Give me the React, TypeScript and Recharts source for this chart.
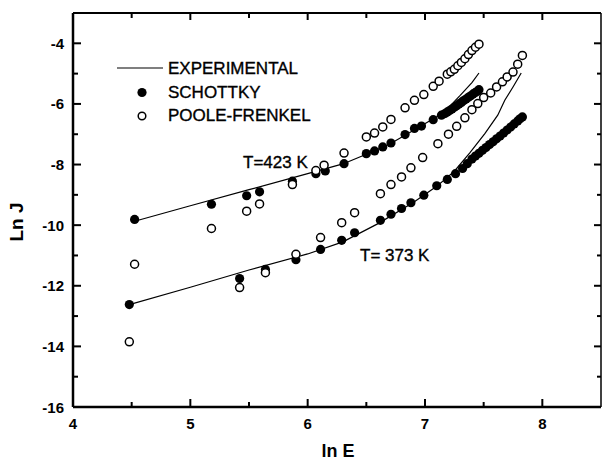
import { ScatterChart, Scatter, XAxis, YAxis } from 'recharts'

const FONT = '"Liberation Sans", Arial, Helvetica, sans-serif'

const xTicks = [4, 4.5, 5, 5.5, 6, 6.5, 7, 7.5, 8]
const xLabels = [4, 5, 6, 7, 8]
const yTicks = [-16, -15, -14, -13, -12, -11, -10, -9, -8, -7, -6, -5, -4]
const yLabels = [-16, -14, -12, -10, -8, -6, -4]

// T = 423 K
const exp423 = [
  { x: 4.525, y: -9.87 }, { x: 5.0, y: -9.36 }, { x: 5.5, y: -8.83 }, { x: 6.0, y: -8.3 },
  { x: 6.3, y: -7.98 }, { x: 6.5, y: -7.66 }, { x: 6.7, y: -7.32 }, { x: 6.9, y: -6.88 },
  { x: 7.1, y: -6.42 }, { x: 7.2, y: -6.12 }, { x: 7.3, y: -5.72 }, { x: 7.4, y: -5.3 },
  { x: 7.46, y: -4.98 },
]
const sch423 = [
  { x: 4.525, y: -9.81 }, { x: 5.18, y: -9.31 }, { x: 5.48, y: -9.03 }, { x: 5.59, y: -8.9 },
  { x: 5.87, y: -8.55 }, { x: 6.07, y: -8.3 }, { x: 6.15, y: -8.21 }, { x: 6.31, y: -7.97 },
  { x: 6.5, y: -7.64 }, { x: 6.57, y: -7.55 }, { x: 6.64, y: -7.42 }, { x: 6.71, y: -7.29 },
  { x: 6.83, y: -7.01 }, { x: 6.91, y: -6.81 }, { x: 6.97, y: -6.73 }, { x: 7.07, y: -6.52 },
  { x: 7.14, y: -6.37 }, { x: 7.17, y: -6.32 }, { x: 7.19, y: -6.27 }, { x: 7.21, y: -6.22 },
  { x: 7.23, y: -6.17 }, { x: 7.25, y: -6.11 }, { x: 7.27, y: -6.06 }, { x: 7.29, y: -6.0 },
  { x: 7.31, y: -5.95 }, { x: 7.33, y: -5.89 }, { x: 7.35, y: -5.84 }, { x: 7.37, y: -5.78 },
  { x: 7.39, y: -5.73 }, { x: 7.41, y: -5.67 }, { x: 7.43, y: -5.62 }, { x: 7.45, y: -5.57 },
  { x: 7.46, y: -5.53 },
]
const pf423 = [
  { x: 4.525, y: -11.29 }, { x: 5.18, y: -10.11 }, { x: 5.48, y: -9.54 }, { x: 5.59, y: -9.3 },
  { x: 5.87, y: -8.66 }, { x: 6.07, y: -8.2 }, { x: 6.14, y: -8.02 }, { x: 6.31, y: -7.62 },
  { x: 6.5, y: -7.09 }, { x: 6.57, y: -6.96 }, { x: 6.64, y: -6.76 }, { x: 6.71, y: -6.51 },
  { x: 6.83, y: -6.13 }, { x: 6.91, y: -5.88 }, { x: 6.99, y: -5.69 }, { x: 7.07, y: -5.42 },
  { x: 7.12, y: -5.25 }, { x: 7.19, y: -5.02 }, { x: 7.22, y: -4.94 }, { x: 7.25, y: -4.86 },
  { x: 7.28, y: -4.74 }, { x: 7.31, y: -4.63 }, { x: 7.34, y: -4.51 }, { x: 7.37, y: -4.37 },
  { x: 7.4, y: -4.24 }, { x: 7.43, y: -4.13 }, { x: 7.46, y: -4.03 },
]

// T = 373 K
const exp373 = [
  { x: 4.48, y: -12.62 }, { x: 5.0, y: -12.05 }, { x: 5.5, y: -11.48 }, { x: 6.0, y: -10.95 },
  { x: 6.3, y: -10.55 }, { x: 6.6, y: -9.95 }, { x: 6.9, y: -9.25 }, { x: 7.1, y: -8.72 },
  { x: 7.25, y: -8.22 }, { x: 7.38, y: -7.62 }, { x: 7.51, y: -6.98 }, { x: 7.62, y: -6.37 },
  { x: 7.68, y: -5.88 }, { x: 7.75, y: -5.44 }, { x: 7.82, y: -4.98 },
]
const sch373 = [
  { x: 4.48, y: -12.62 }, { x: 5.42, y: -11.76 }, { x: 5.64, y: -11.46 }, { x: 5.9, y: -11.14 },
  { x: 6.11, y: -10.8 }, { x: 6.29, y: -10.5 }, { x: 6.4, y: -10.25 }, { x: 6.62, y: -9.84 },
  { x: 6.71, y: -9.64 }, { x: 6.8, y: -9.45 }, { x: 6.88, y: -9.26 }, { x: 6.99, y: -9.01 },
  { x: 7.1, y: -8.7 }, { x: 7.19, y: -8.49 }, { x: 7.26, y: -8.3 }, { x: 7.32, y: -8.13 },
  { x: 7.36, y: -7.97 }, { x: 7.4, y: -7.82 }, { x: 7.43, y: -7.72 }, { x: 7.46, y: -7.63 },
  { x: 7.49, y: -7.53 }, { x: 7.52, y: -7.44 }, { x: 7.55, y: -7.34 }, { x: 7.58, y: -7.25 },
  { x: 7.61, y: -7.15 }, { x: 7.64, y: -7.06 }, { x: 7.67, y: -6.96 }, { x: 7.7, y: -6.86 },
  { x: 7.73, y: -6.76 }, { x: 7.76, y: -6.66 }, { x: 7.79, y: -6.56 }, { x: 7.81, y: -6.49 },
  { x: 7.83, y: -6.43 },
]
const pf373 = [
  { x: 4.48, y: -13.85 }, { x: 5.42, y: -12.06 }, { x: 5.64, y: -11.57 }, { x: 5.9, y: -10.96 },
  { x: 6.11, y: -10.41 }, { x: 6.29, y: -9.92 }, { x: 6.4, y: -9.59 }, { x: 6.62, y: -8.96 },
  { x: 6.71, y: -8.66 }, { x: 6.8, y: -8.41 }, { x: 6.88, y: -8.11 }, { x: 6.98, y: -7.77 },
  { x: 7.11, y: -7.31 }, { x: 7.2, y: -7.0 }, { x: 7.27, y: -6.74 }, { x: 7.34, y: -6.46 },
  { x: 7.4, y: -6.19 }, { x: 7.45, y: -5.99 }, { x: 7.5, y: -5.79 }, { x: 7.56, y: -5.64 },
  { x: 7.61, y: -5.44 }, { x: 7.66, y: -5.27 }, { x: 7.7, y: -5.11 }, { x: 7.75, y: -4.95 },
  { x: 7.79, y: -4.69 }, { x: 7.83, y: -4.4 },
]

const legendItems = ['EXPERIMENTAL', 'SCHOTTKY', 'POOLE-FRENKEL']

const Filled = (p: any) => <circle cx={p.cx} cy={p.cy} r={4.6} fill="#000" />
const Open = (p: any) => <circle cx={p.cx} cy={p.cy} r={4} fill="#fff" stroke="#000" strokeWidth={1.5} />
const NoDot = () => <g />

const BottomTick = (p: any) => {
  const major = xLabels.includes(p.payload.value)
  return (
    <g>
      <line x1={p.x} y1={p.y} x2={p.x} y2={p.y - (major ? 8 : 5)} stroke="#000" strokeWidth={2} />
      {major && (
        <text x={p.x} y={p.y + 22} textAnchor="middle" fontSize={15} fontWeight="bold" fill="#000">
          {p.payload.value}
        </text>
      )}
    </g>
  )
}

const TopTick = (p: any) => {
  const major = xLabels.includes(p.payload.value)
  return <line x1={p.x} y1={p.y} x2={p.x} y2={p.y + (major ? 7 : 5)} stroke="#000" strokeWidth={2} />
}

const LeftTick = (p: any) => {
  const major = yLabels.includes(p.payload.value)
  return (
    <g>
      <line x1={p.x} y1={p.y} x2={p.x + (major ? 8 : 5)} y2={p.y} stroke="#000" strokeWidth={2} />
      {major && (
        <text x={p.x - 9} y={p.y + 5.5} textAnchor="end" fontSize={15} fontWeight="bold" fill="#000">
          {p.payload.value}
        </text>
      )}
    </g>
  )
}

const RightTick = (p: any) => {
  const major = yLabels.includes(p.payload.value)
  return <line x1={p.x} y1={p.y} x2={p.x - (major ? 7 : 4)} y2={p.y} stroke="#000" strokeWidth={2} />
}

const textInk = { fill: '#000', stroke: '#000', strokeWidth: 0.35 }

export default function App() {
  return (
    <div style={{ position: 'absolute', left: 0, top: 0, width: 603, height: 463, background: '#fff', fontFamily: FONT }}>
      <ScatterChart width={603} height={463} margin={{ top: 12, right: 0, bottom: 26, left: 13 }} style={{ fontFamily: FONT }}>
        <XAxis
          dataKey="x"
          type="number"
          domain={[4, 8.5]}
          ticks={xTicks}
          interval={0}
          height={30}
          tickSize={0}
          tickMargin={0}
          tickLine={false}
          tick={<BottomTick />}
          axisLine={{ stroke: '#000', strokeWidth: 2.5 }}
          allowDataOverflow
        />
        <XAxis
          xAxisId="top"
          orientation="top"
          dataKey="x"
          type="number"
          domain={[4, 8.5]}
          ticks={xTicks}
          interval={0}
          height={1}
          tickSize={0}
          tickMargin={0}
          tickLine={false}
          tick={<TopTick />}
          axisLine={{ stroke: '#000', strokeWidth: 2 }}
          allowDataOverflow
        />
        <YAxis
          dataKey="y"
          type="number"
          domain={[-16, -3]}
          ticks={yTicks}
          interval={0}
          width={60}
          tickSize={0}
          tickMargin={0}
          tickLine={false}
          tick={<LeftTick />}
          axisLine={{ stroke: '#000', strokeWidth: 2.5 }}
          allowDataOverflow
        />
        <YAxis
          yAxisId="right"
          orientation="right"
          dataKey="y"
          type="number"
          domain={[-16, -3]}
          ticks={yTicks}
          interval={0}
          width={2}
          tickSize={0}
          tickMargin={0}
          tickLine={false}
          tick={<RightTick />}
          axisLine={{ stroke: '#000', strokeWidth: 1.5 }}
          allowDataOverflow
        />
        <Scatter data={exp423} line={{ stroke: '#000', strokeWidth: 1.2 }} shape={<NoDot />} isAnimationActive={false} />
        <Scatter data={exp373} line={{ stroke: '#000', strokeWidth: 1.2 }} shape={<NoDot />} isAnimationActive={false} />
        <Scatter data={sch423} shape={<Filled />} isAnimationActive={false} />
        <Scatter data={sch373} shape={<Filled />} isAnimationActive={false} />
        <Scatter data={pf423} shape={<Open />} isAnimationActive={false} />
        <Scatter data={pf373} shape={<Open />} isAnimationActive={false} />
      </ScatterChart>
      <svg width={603} height={463} style={{ position: 'absolute', left: 0, top: 0, pointerEvents: 'none' }}>
        <line x1={117} y1={68} x2={163} y2={68} stroke="#000" strokeWidth={1.2} />
        <circle cx={142} cy={92.5} r={4.6} fill="#000" />
        <circle cx={142} cy={116} r={3.8} fill="#fff" stroke="#000" strokeWidth={1.5} />
        {legendItems.map((t, i) => (
          <text key={t} x={168} y={74 + i * 23.5} fontSize={17} {...textInk}>{t}</text>
        ))}
        <text x={243} y={168} fontSize={17} {...textInk}>T=423 K</text>
        <text x={360} y={261} fontSize={17} {...textInk}>T= 373 K</text>
        <text x={338} y={457} textAnchor="middle" fontSize={18} fontWeight="bold" fill="#000">ln E</text>
        <text x={23} y={222} textAnchor="middle" fontSize={19} fontWeight="bold" fill="#000" transform="rotate(-90 23 222)">Ln J</text>
      </svg>
    </div>
  )
}
